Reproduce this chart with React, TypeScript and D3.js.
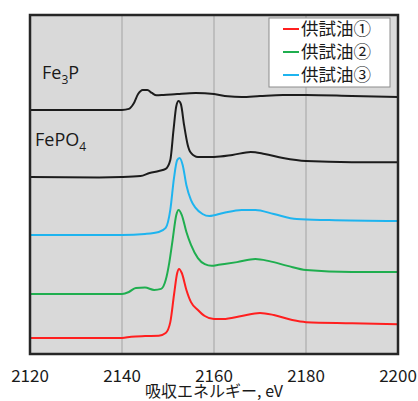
import React from "react";
import * as d3 from "d3";

// x-axis ticks (eV)
const xTicks = [2120, 2140, 2160, 2180, 2200];
const gridTicks = [2140, 2160, 2180];

// spectra: [energy eV, normalized intensity above own baseline]
const fe3p: [number, number][] = [
  [2120, 0], [2140, 0], [2141.5, 0.03], [2142.5, 0.18], [2143.5, 0.47], [2144.5, 0.59],
  [2145.5, 0.59], [2146.5, 0.5], [2147.5, 0.43], [2149, 0.44], [2152, 0.47], [2156, 0.5],
  [2160, 0.47], [2163, 0.4], [2166, 0.38], [2170, 0.41], [2175, 0.44], [2180, 0.44],
  [2190, 0.41], [2200, 0.38],
];
const fepo4: [number, number][] = [
  [2120, 0], [2135, -0.01], [2140, 0], [2144, 0.03], [2146, 0.12], [2148, 0.18],
  [2149.5, 0.24], [2150.5, 0.5], [2151.2, 1.39], [2151.8, 2.09], [2152.3, 2.24],
  [2152.8, 2.15], [2153.5, 1.53], [2154.3, 0.94], [2155, 0.71], [2156.5, 0.59],
  [2160, 0.59], [2164, 0.65], [2168, 0.74], [2171, 0.68], [2175, 0.56], [2180, 0.47],
  [2190, 0.44], [2200, 0.44],
];
const oil3: [number, number][] = [
  [2120, 0], [2140, 0], [2145, 0.03], [2148, 0.09], [2149.5, 0.21], [2150.5, 0.74],
  [2151.3, 1.68], [2152, 2.21], [2152.5, 2.27], [2153.2, 2.06], [2154, 1.47], [2155, 1.03],
  [2156, 0.8], [2157.5, 0.62], [2159, 0.56], [2162, 0.65], [2166, 0.74], [2169, 0.74],
  [2173, 0.62], [2178, 0.47], [2185, 0.44], [2200, 0.41],
];
const oil2: [number, number][] = [
  [2120, 0], [2140, 0], [2141.5, 0.06], [2143, 0.18], [2145, 0.19], [2147, 0.12],
  [2148.5, 0.15], [2149.5, 0.41], [2150.3, 0.94], [2151, 1.59], [2151.8, 2.33],
  [2152.3, 2.48], [2153, 2.33], [2154, 1.83], [2155, 1.45], [2156.5, 1.06], [2158, 0.88],
  [2159.5, 0.83], [2161, 0.86], [2165, 0.94], [2169, 1.03], [2172, 0.97], [2176, 0.83],
  [2180, 0.71], [2190, 0.65], [2200, 0.65],
];
const oil1: [number, number][] = [
  [2120, 0], [2140, 0], [2142, 0.04], [2145, 0.06], [2148, 0.07], [2149.5, 0.15],
  [2150.5, 0.47], [2151.3, 1.27], [2152, 1.92], [2152.4, 2.04], [2153, 1.92], [2154, 1.42],
  [2155, 1.06], [2156.5, 0.83], [2158, 0.65], [2160, 0.56], [2162, 0.56], [2166, 0.65],
  [2170, 0.74], [2173, 0.68], [2177, 0.53], [2180, 0.47], [2190, 0.44], [2200, 0.41],
];

const seriesNames = ["Fe3P", "FePO4", "供試油③", "供試油②", "供試油①"];
const seriesData = [fe3p, fepo4, oil3, oil2, oil1];
const seriesOffsets = [7.2, 5.22, 3.51, 1.77, 0.47];
const seriesColors = ["#1c1c1c", "#1c1c1c", "#1eb4ef", "#1fae4f", "#ff1f1f"];

const legendNames = ["供試油①", "供試油②", "供試油③"];
const legendColors = ["#ff1f1f", "#1fae4f", "#1eb4ef"];

export default function App() {
  const width = 418;
  const height = 401;
  const margin = { top: 15, right: 20, bottom: 47, left: 30 };

  const x = d3
    .scaleLinear()
    .domain([2120, 2200])
    .range([margin.left, width - margin.right]);
  const y = d3
    .scaleLinear()
    .domain([0, 10])
    .range([height - margin.bottom, margin.top]);

  const line = (offset: number) =>
    d3
      .line<[number, number]>()
      .x((d) => x(d[0]))
      .y((d) => y(d[1] + offset))
      .curve(d3.curveMonotoneX);

  const jp = "'Noto Sans CJK JP', sans-serif";
  const lat = "'Open Sans', 'Noto Sans', sans-serif";

  return (
    <svg
      width={width}
      height={height}
      style={{ position: "absolute", left: 0, top: 0, background: "#fff" }}
    >
      {/* plot background */}
      <rect
        x={x(2120)}
        y={y(10)}
        width={x(2200) - x(2120)}
        height={y(0) - y(10)}
        fill="#d9d9d9"
      />
      {gridTicks.map((t) => (
        <line
          key={t}
          x1={x(t)}
          x2={x(t)}
          y1={y(10)}
          y2={y(0)}
          stroke="#a3a3a3"
          strokeWidth={1}
        />
      ))}

      {seriesData.map((d, i) => (
        <path
          key={seriesNames[i]}
          d={line(seriesOffsets[i])(d) || ""}
          fill="none"
          stroke={seriesColors[i]}
          strokeWidth={2}
          strokeLinejoin="round"
        />
      ))}

      {/* frame */}
      <rect
        x={x(2120)}
        y={y(10)}
        width={x(2200) - x(2120)}
        height={y(0) - y(10)}
        fill="none"
        stroke="#262626"
        strokeWidth={2.5}
      />

      {/* compound labels */}
      <text x={42} y={79} fontFamily={lat} fontSize={18} fill="#1a1a1a">
        Fe<tspan fontSize={12} dy={5}>3</tspan>
        <tspan dy={-5}>P</tspan>
      </text>
      <text x={35} y={146} fontFamily={lat} fontSize={18} fill="#1a1a1a">
        FePO<tspan fontSize={12} dy={5}>4</tspan>
      </text>

      {/* legend */}
      <rect x={269} y={18} width={121} height={69} fill="#fff" stroke="#8c8c8c" strokeWidth={1} />
      {legendNames.map((n, i) => (
        <g key={n} transform={`translate(0, ${29 + i * 23})`}>
          <line x1={283} x2={299} y1={0} y2={0} stroke={legendColors[i]} strokeWidth={2} />
          <text x={301} y={0} dy="0.36em" fontFamily={jp} fontSize={17.5} fill="#1a1a1a">
            {n}
          </text>
        </g>
      ))}

      {/* x tick labels */}
      {xTicks.map((t) => (
        <text
          key={t}
          x={x(t)}
          y={376}
          dy="0.35em"
          textAnchor="middle"
          fontFamily={jp}
          fontSize={17}
          fill="#1a1a1a"
        >
          {t}
        </text>
      ))}
      <text
        x={x(2160)}
        y={392}
        dy="0.3em"
        textAnchor="middle"
        fontFamily={jp}
        fontSize={16}
        fill="#1a1a1a"
      >
        吸収エネルギー, eV
      </text>
    </svg>
  );
}
